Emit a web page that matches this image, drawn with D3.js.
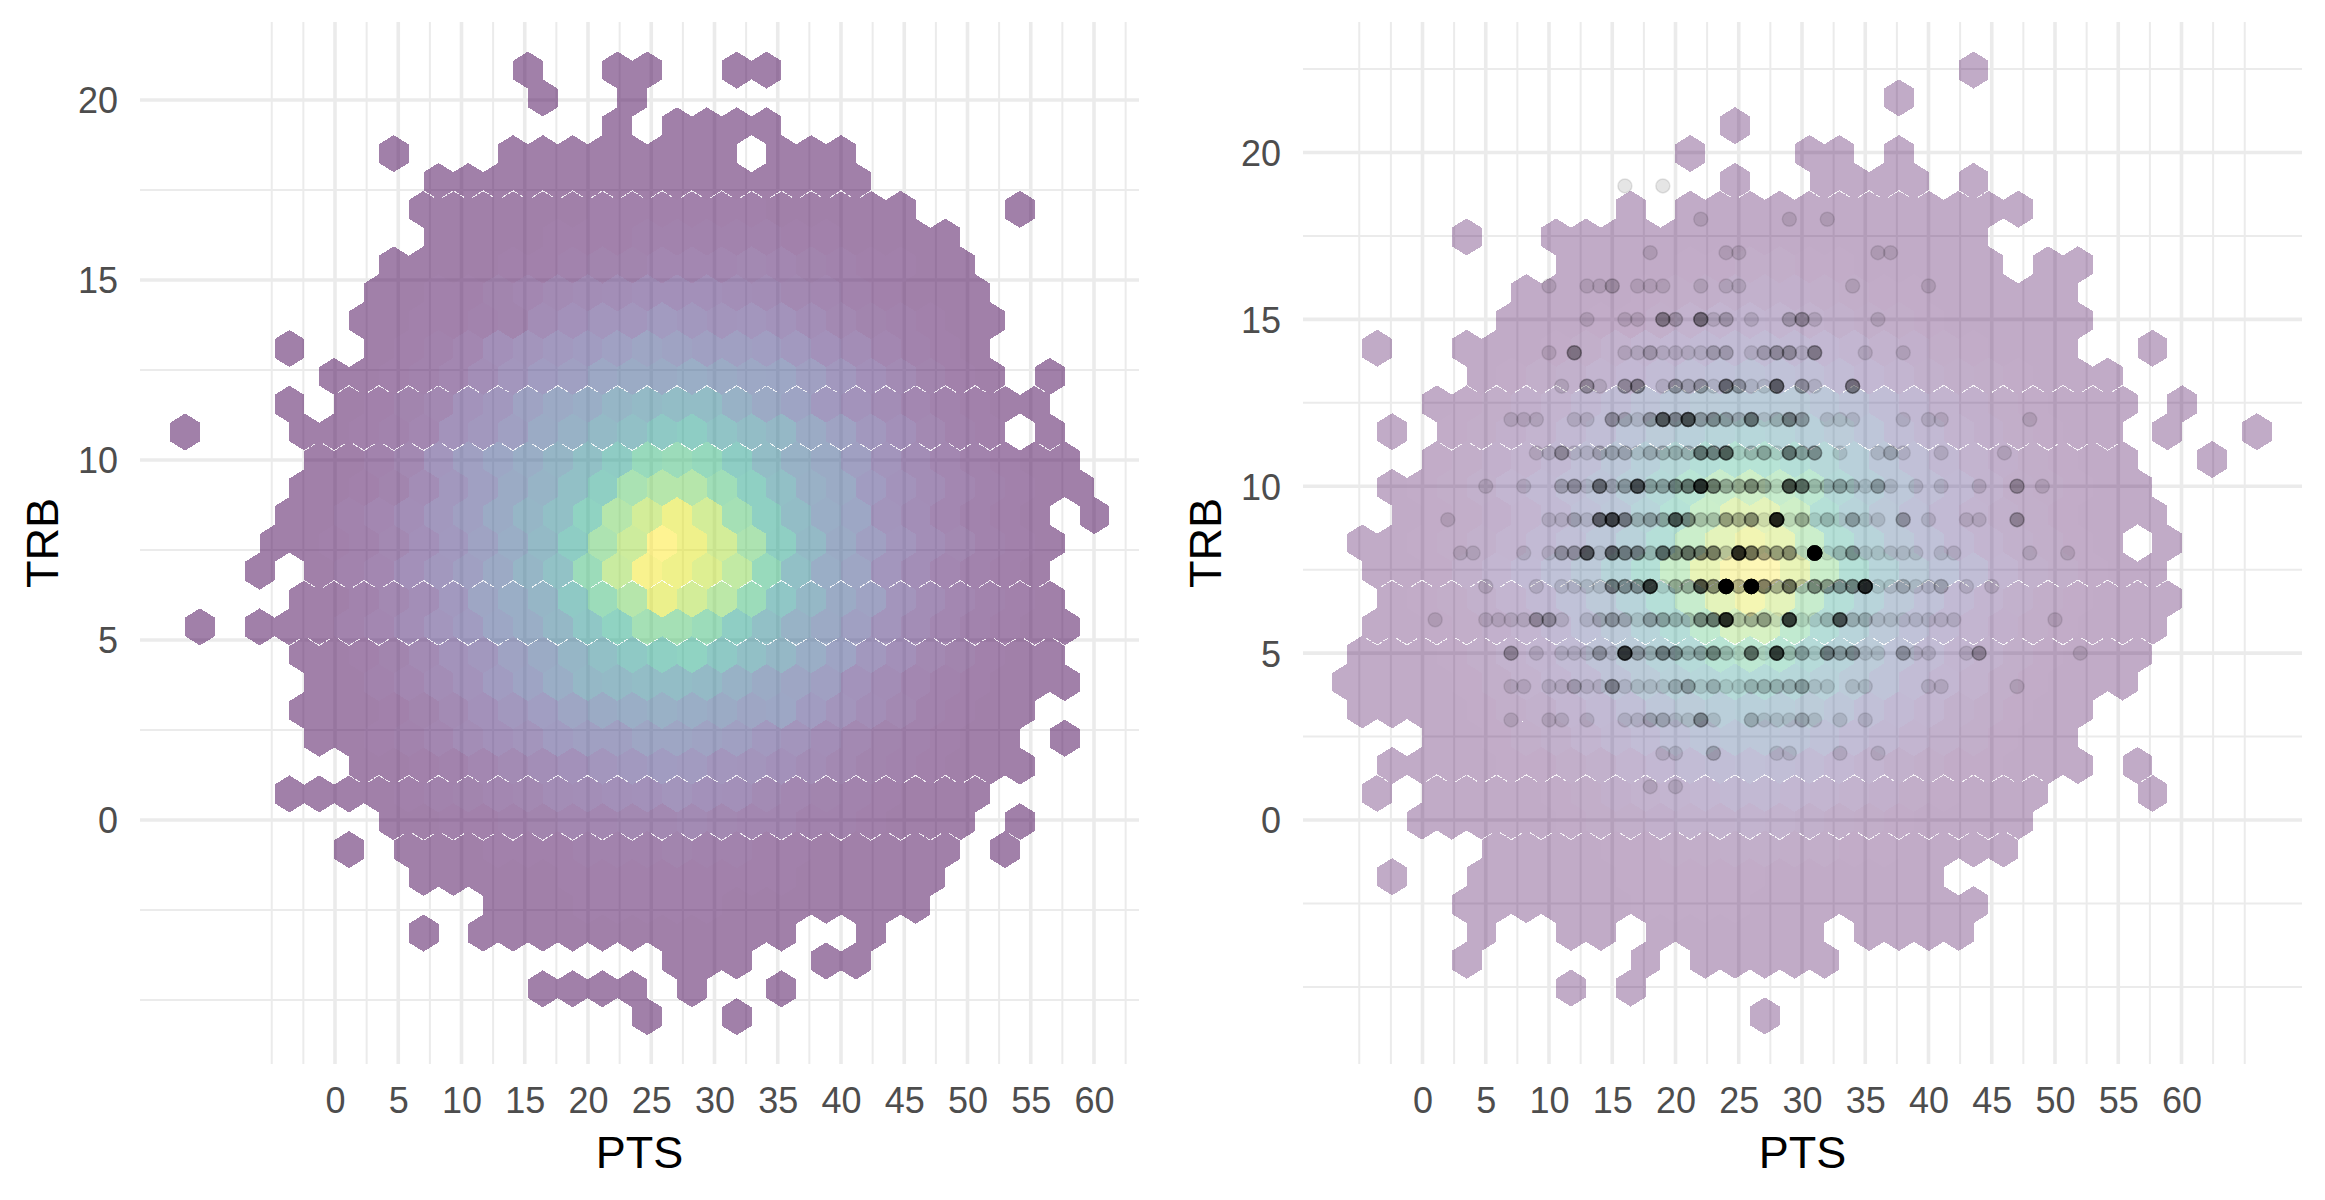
<!DOCTYPE html>
<html>
<head>
<meta charset="utf-8">
<script src="https://cdn.jsdelivr.net/npm/d3@7"></script>
<style>
  body { margin: 0; background: #fff; }
  text { font-family: "Liberation Sans", Arial, sans-serif; }
</style>
</head>
<body>
<div id="chart"></div>
<script>
// tick labels
const ptsTicks = [0, 5, 10, 15, 20, 25, 30, 35, 40, 45, 50, 55, 60]
const trbTicks = [0, 5, 10, 15, 20]

// hex bins of the left panel: column of the first bin in each row, then the counts (0 = empty)
const leftStart = [-4, -4, -1, -9, -7, -8, -7, -9, -9, -10, -12, -11, -12, -16, -11, -12, -12, -13, -13, -12, -15, -12, -11, -12, -11, -10, -12, -9, -10, -8, -5, -8, 1, -4, 0]
const leftCounts = [
  [1, 0, 0, 1, 1, 0, 0, 1, 1],
  [1, 0, 0, 1],
  [1, 0, 1, 1, 1, 1],
  [1, 0, 0, 0, 1, 1, 1, 1, 1, 1, 1, 1, 0, 1, 1, 1],
  [1, 1, 1, 1, 1, 1, 1, 1, 1, 1, 1, 1, 1, 1, 1],
  [1, 1, 1, 1, 1, 1, 2, 2, 2, 2, 2, 2, 1, 1, 1, 1, 1, 0, 0, 0, 1],
  [1, 1, 1, 1, 2, 2, 2, 3, 3, 3, 3, 3, 2, 2, 1, 1, 1, 1],
  [1, 1, 1, 1, 2, 2, 3, 4, 4, 5, 5, 5, 6, 5, 4, 3, 2, 2, 1, 1],
  [1, 1, 2, 2, 4, 5, 7, 8, 9, 10, 10, 10, 9, 8, 6, 5, 3, 2, 1, 1, 1],
  [1, 1, 2, 2, 3, 4, 8, 11, 14, 14, 17, 15, 13, 14, 12, 9, 6, 4, 3, 2, 1, 1],
  [1, 0, 0, 1, 2, 3, 5, 10, 13, 16, 18, 21, 24, 22, 20, 20, 19, 16, 11, 8, 5, 3, 2, 1],
  [1, 1, 2, 3, 5, 9, 14, 18, 20, 26, 28, 28, 30, 28, 26, 25, 20, 15, 10, 7, 4, 2, 1, 0, 1],
  [1, 0, 1, 2, 4, 6, 12, 15, 22, 27, 30, 36, 40, 42, 42, 33, 27, 23, 16, 12, 8, 5, 3, 2, 1, 1],
  [1, 0, 0, 0, 1, 1, 2, 3, 5, 12, 15, 20, 28, 33, 40, 44, 52, 55, 48, 42, 38, 28, 22, 15, 10, 6, 3, 2, 0, 1],
  [1, 1, 3, 6, 14, 20, 25, 30, 36, 45, 54, 66, 68, 65, 55, 42, 33, 28, 20, 13, 8, 5, 3, 2, 1, 1],
  [1, 1, 2, 4, 8, 15, 20, 28, 35, 44, 57, 74, 78, 78, 70, 58, 45, 32, 28, 18, 12, 8, 5, 3, 2, 1, 1],
  [1, 1, 3, 5, 9, 15, 20, 28, 36, 45, 60, 78, 87, 95, 87, 72, 58, 42, 30, 25, 13, 9, 5, 3, 2, 1, 0, 1],
  [1, 1, 2, 3, 6, 10, 16, 22, 30, 40, 55, 75, 85, 100, 95, 87, 75, 57, 40, 28, 20, 14, 9, 6, 3, 2, 1],
  [1, 0, 1, 3, 5, 10, 15, 20, 27, 36, 46, 68, 84, 98, 95, 90, 82, 66, 45, 30, 24, 14, 9, 5, 3, 2, 1],
  [1, 1, 3, 6, 9, 16, 24, 30, 36, 52, 68, 78, 94, 87, 80, 68, 50, 38, 28, 22, 13, 8, 5, 3, 2, 1],
  [1, 0, 1, 1, 1, 3, 5, 9, 14, 18, 25, 30, 38, 50, 60, 72, 72, 68, 56, 45, 34, 27, 20, 13, 8, 5, 3, 2, 1, 1],
  [1, 1, 2, 4, 7, 12, 15, 22, 28, 36, 44, 52, 58, 60, 52, 45, 38, 30, 23, 15, 10, 6, 4, 2, 1, 1],
  [1, 1, 3, 5, 8, 12, 18, 23, 30, 38, 40, 42, 42, 40, 33, 28, 24, 20, 12, 8, 5, 3, 2, 1, 1, 1],
  [1, 1, 1, 2, 4, 7, 11, 15, 19, 24, 28, 30, 32, 30, 28, 24, 25, 18, 13, 9, 6, 3, 2, 1, 1],
  [1, 1, 2, 3, 5, 8, 11, 13, 18, 20, 20, 24, 24, 22, 20, 16, 13, 9, 6, 4, 3, 2, 1, 1, 0, 1],
  [1, 1, 2, 3, 5, 7, 9, 11, 14, 16, 18, 17, 14, 13, 11, 8, 6, 4, 3, 2, 1, 1, 1],
  [1, 1, 1, 1, 2, 3, 4, 5, 6, 8, 9, 10, 11, 13, 11, 10, 7, 5, 4, 3, 2, 1, 1, 1],
  [1, 1, 2, 2, 3, 4, 5, 5, 6, 6, 7, 6, 5, 5, 3, 3, 2, 1, 1, 1, 0, 1],
  [1, 0, 1, 1, 1, 2, 2, 2, 3, 3, 3, 4, 3, 3, 2, 2, 1, 1, 1, 1, 1, 0, 1],
  [1, 1, 1, 1, 1, 2, 2, 2, 2, 2, 2, 2, 2, 1, 1, 1, 1, 1],
  [1, 1, 1, 2, 2, 2, 2, 2, 1, 1, 1, 1, 1, 1, 1],
  [1, 0, 1, 1, 1, 1, 1, 1, 1, 1, 1, 1, 1, 0, 0, 1],
  [1, 1, 1, 0, 0, 1, 1],
  [1, 1, 1, 1, 0, 1, 0, 0, 1],
  [1, 0, 0, 1]
]

// hex bins of the right panel
const rightStart = [0, -2, -8, -9, -8, -11, -17, -13, -15, -15, -20, -16, -18, -19, -18, -19, -19, -20, -20, -19, -20, -20, -21, -20, -18, -19, -20, -18, -16, -19, -17, -16, -17, -13, -7]
const rightCounts = [
  [1],
  [1],
  [1],
  [1, 0, 0, 0, 1, 1, 0, 1],
  [1, 0, 0, 1, 1, 1, 1, 0, 1],
  [1, 0, 1, 1, 1, 1, 1, 1, 1, 1, 1, 1, 1, 1],
  [1, 0, 0, 1, 1, 1, 1, 1, 1, 1, 1, 1, 1, 1, 1, 1, 1, 1],
  [1, 1, 1, 1, 2, 2, 3, 3, 2, 2, 1, 1, 1, 1, 1, 0, 1, 1],
  [1, 1, 1, 1, 2, 3, 4, 6, 6, 5, 4, 3, 2, 2, 1, 1, 1, 1, 1],
  [1, 1, 1, 2, 2, 4, 7, 9, 10, 9, 7, 6, 4, 3, 2, 1, 1, 1, 1, 1],
  [1, 0, 0, 1, 1, 1, 2, 4, 7, 10, 12, 14, 16, 16, 14, 12, 10, 7, 5, 3, 2, 1, 1, 1, 0, 0, 1],
  [1, 2, 4, 6, 9, 12, 16, 20, 22, 24, 22, 20, 16, 12, 9, 6, 4, 3, 2, 1, 1, 1],
  [1, 2, 3, 5, 8, 13, 18, 24, 28, 32, 34, 34, 32, 28, 24, 18, 13, 8, 5, 3, 2, 1, 1, 1, 0, 1],
  [1, 0, 2, 3, 5, 8, 13, 18, 26, 32, 38, 44, 46, 44, 38, 32, 26, 18, 13, 8, 5, 3, 2, 1, 1, 0, 1, 0, 0, 1],
  [2, 3, 5, 8, 13, 20, 28, 38, 48, 56, 62, 62, 56, 48, 38, 28, 20, 13, 8, 5, 3, 2, 1, 1, 0, 0, 1],
  [1, 2, 3, 6, 10, 14, 20, 26, 36, 50, 64, 75, 78, 74, 68, 50, 38, 28, 20, 14, 8, 4, 3, 2, 1, 1],
  [1, 2, 3, 5, 9, 14, 22, 28, 44, 60, 76, 88, 88, 78, 58, 42, 30, 22, 14, 9, 6, 4, 2, 1, 1, 1],
  [1, 1, 2, 3, 6, 9, 14, 20, 28, 40, 56, 76, 88, 94, 90, 76, 58, 42, 30, 22, 14, 9, 6, 4, 2, 1, 0, 1],
  [1, 1, 2, 6, 10, 15, 22, 30, 44, 58, 76, 90, 98, 100, 90, 76, 58, 44, 32, 25, 18, 10, 6, 4, 2, 1, 1],
  [1, 2, 3, 6, 9, 14, 22, 30, 42, 56, 74, 88, 95, 88, 74, 56, 42, 30, 22, 14, 9, 6, 3, 2, 1, 1, 1],
  [1, 1, 2, 3, 5, 9, 14, 22, 30, 42, 54, 70, 82, 82, 70, 54, 42, 30, 22, 14, 9, 5, 3, 2, 1, 1, 1],
  [1, 1, 1, 2, 4, 7, 10, 16, 24, 32, 42, 52, 64, 68, 64, 52, 42, 32, 24, 16, 10, 7, 4, 2, 1, 1, 1],
  [1, 1, 1, 1, 2, 4, 7, 11, 16, 24, 32, 40, 46, 52, 52, 46, 40, 32, 24, 16, 11, 7, 4, 2, 1, 1, 1],
  [1, 1, 1, 1, 2, 4, 6, 10, 14, 20, 27, 32, 36, 38, 36, 32, 27, 20, 14, 10, 6, 4, 2, 1, 1],
  [1, 1, 2, 4, 6, 9, 13, 17, 22, 26, 28, 28, 26, 22, 17, 13, 9, 6, 4, 2, 1, 1],
  [1, 1, 1, 1, 2, 2, 4, 6, 9, 12, 16, 18, 20, 18, 16, 12, 9, 6, 4, 2, 2, 1, 1, 1, 0, 1],
  [1, 0, 1, 1, 1, 1, 2, 3, 5, 7, 9, 11, 13, 13, 11, 9, 7, 5, 3, 2, 1, 1, 1, 0, 0, 0, 1],
  [1, 1, 1, 1, 1, 2, 3, 4, 5, 7, 7, 8, 7, 6, 4, 3, 2, 1, 1, 1, 1],
  [1, 1, 1, 1, 2, 2, 3, 3, 4, 4, 3, 3, 2, 2, 1, 1, 1, 1],
  [1, 0, 0, 1, 1, 1, 1, 1, 2, 2, 2, 2, 2, 1, 1, 1, 1, 1, 1],
  [1, 1, 1, 1, 1, 1, 2, 2, 2, 2, 1, 1, 1, 1, 1, 1, 1, 1],
  [1, 0, 0, 1, 1, 0, 1, 1, 1, 1, 1, 1, 0, 1, 1, 1, 1],
  [1, 0, 0, 0, 0, 0, 1, 0, 1, 1, 1, 1, 1],
  [1, 0, 1],
  [1]
]

// points of the right panel: one row per TRB value, PTS values and how many points sit there
const dotTRB = [19, 18, 17, 16, 15, 14, 13, 12, 11, 10, 9, 8, 7, 6, 5, 4, 3, 2, 1]
const dotPTS = [
  [16, 19],
  [22, 29, 32],
  [18, 24, 25, 36, 37],
  [10, 13, 14, 15, 17, 18, 19, 22, 24, 25, 34, 40],
  [13, 16, 17, 19, 20, 22, 23, 24, 26, 29, 30, 31, 36],
  [10, 12, 16, 17, 18, 19, 20, 21, 22, 23, 24, 26, 27, 28, 29, 30, 31, 35, 38],
  [11, 13, 14, 16, 17, 19, 20, 21, 22, 23, 24, 25, 26, 27, 28, 30, 31, 34],
  [7, 8, 9, 12, 13, 15, 16, 17, 18, 19, 20, 21, 22, 23, 24, 25, 26, 27, 28, 29, 30, 32, 33, 34, 38, 40, 41, 48],
  [9, 10, 11, 12, 13, 14, 15, 16, 17, 18, 19, 20, 21, 22, 23, 24, 25, 26, 27, 28, 29, 30, 31, 33, 36, 37, 38, 41, 46],
  [5, 8, 11, 12, 13, 14, 15, 16, 17, 18, 19, 20, 21, 22, 23, 24, 25, 26, 27, 28, 29, 30, 31, 32, 33, 34, 35, 36, 37, 39, 41, 44, 47, 49],
  [2, 10, 11, 12, 13, 14, 15, 16, 17, 18, 19, 20, 21, 22, 23, 24, 25, 26, 27, 28, 29, 30, 31, 32, 33, 34, 35, 36, 38, 40, 43, 44, 47],
  [3, 4, 8, 10, 11, 12, 13, 14, 15, 16, 17, 18, 19, 20, 21, 22, 23, 24, 25, 26, 27, 28, 29, 30, 31, 32, 33, 34, 35, 36, 37, 38, 39, 41, 42, 48, 51],
  [5, 9, 11, 12, 13, 14, 15, 16, 17, 18, 19, 20, 21, 22, 23, 24, 25, 26, 27, 28, 29, 30, 31, 32, 33, 34, 35, 36, 37, 38, 39, 40, 41, 43, 45],
  [1, 5, 6, 7, 8, 9, 10, 11, 13, 14, 15, 16, 17, 18, 19, 20, 21, 22, 23, 24, 25, 26, 27, 28, 29, 30, 31, 32, 33, 34, 35, 36, 37, 38, 39, 40, 41, 42, 50],
  [7, 9, 11, 12, 13, 14, 15, 16, 17, 18, 19, 20, 21, 22, 23, 24, 25, 26, 27, 28, 29, 30, 31, 32, 33, 34, 35, 36, 38, 39, 40, 43, 44, 52],
  [7, 8, 10, 11, 12, 13, 14, 15, 16, 17, 18, 19, 20, 21, 22, 23, 24, 25, 26, 27, 28, 29, 30, 31, 32, 34, 35, 40, 41, 47],
  [7, 10, 11, 13, 16, 17, 18, 19, 20, 21, 22, 23, 26, 27, 28, 29, 30, 31, 33, 35],
  [19, 20, 23, 28, 29, 33, 36],
  [18, 20]
]
const dotN = [
  [1, 1],
  [1, 1, 1],
  [1, 1, 1, 1, 1],
  [1, 1, 1, 2, 1, 1, 1, 1, 1, 1, 1, 1],
  [1, 1, 1, 4, 2, 5, 1, 2, 1, 2, 3, 1, 1],
  [1, 4, 1, 1, 2, 1, 1, 1, 1, 2, 2, 1, 2, 3, 3, 1, 4, 1, 1],
  [1, 3, 1, 3, 4, 1, 3, 2, 3, 1, 6, 3, 1, 1, 7, 3, 1, 5],
  [1, 1, 1, 1, 1, 3, 2, 1, 3, 8, 4, 9, 3, 4, 3, 2, 6, 1, 2, 5, 3, 1, 1, 1, 1, 1, 1, 1],
  [1, 1, 3, 1, 1, 2, 2, 2, 1, 2, 2, 2, 2, 6, 5, 8, 1, 2, 3, 1, 6, 3, 4, 1, 1, 2, 1, 1, 1],
  [1, 1, 2, 3, 1, 6, 2, 3, 9, 3, 3, 5, 6, 14, 6, 3, 3, 5, 3, 1, 10, 7, 2, 2, 3, 2, 1, 3, 1, 1, 1, 1, 3, 1],
  [1, 1, 1, 2, 1, 7, 10, 5, 2, 3, 3, 9, 5, 2, 2, 4, 3, 5, 1, 17, 1, 3, 1, 2, 1, 3, 1, 1, 3, 1, 1, 1, 3],
  [1, 1, 1, 1, 3, 3, 8, 1, 7, 5, 5, 2, 7, 5, 7, 6, 6, 2, 15, 7, 4, 4, 5, 1, 35, 1, 2, 4, 1, 1, 1, 1, 1, 1, 1, 1, 1],
  [1, 1, 1, 1, 1, 1, 5, 4, 4, 12, 1, 3, 3, 10, 5, 35, 3, 35, 6, 3, 7, 2, 5, 4, 4, 5, 15, 1, 1, 2, 1, 1, 2, 1, 1],
  [1, 1, 1, 1, 1, 3, 3, 1, 1, 2, 3, 2, 1, 3, 3, 2, 2, 5, 6, 15, 2, 3, 4, 1, 12, 1, 1, 2, 9, 2, 2, 1, 1, 1, 1, 1, 1, 1, 1],
  [3, 1, 1, 1, 1, 3, 1, 12, 3, 2, 5, 4, 2, 3, 5, 2, 1, 7, 1, 12, 2, 3, 1, 5, 3, 4, 1, 1, 3, 1, 1, 1, 3, 1],
  [1, 1, 1, 1, 2, 1, 1, 4, 1, 1, 1, 1, 2, 3, 1, 2, 1, 1, 2, 2, 2, 2, 3, 1, 1, 1, 1, 1, 1, 1],
  [1, 1, 1, 1, 1, 1, 2, 2, 1, 1, 4, 1, 2, 1, 1, 1, 2, 1, 1, 1],
  [1, 1, 2, 1, 1, 1, 1],
  [1, 1]
]

// rows where the hexagons leave a hairline: row above the seam, and which way its peaks point
const seams = [[4, 'up'], [11, 'up'], [13, 'down'], [18, 'up'], [20, 'down'], [25, 'up'], [27, 'down']]

const svg = d3.select('#chart')
              .append('svg')
              .attr('width', 2325)
              .attr('height', 1200)
              .style('display', 'block')

const color = d3.scaleSequential(d3.interpolateViridis).domain([1, 100])
const binW = 2.357

function drawPanel(p) {
  const x = d3.scaleLinear().domain([0, 60]).range(p.xRange)
  const y = d3.scaleLinear().domain([0, 20]).range(p.yRange)
  const g = svg.append('g')

  // grid, minor first
  const addGrid = (vals, w, vert) => {
    g.selectAll(null)
      .data(vals)
      .enter()
      .append('line')
      .attr('x1', d => vert ? x(d) : p.left)
      .attr('x2', d => vert ? x(d) : p.right)
      .attr('y1', d => vert ? p.top : y(d))
      .attr('y2', d => vert ? p.bottom : y(d))
      .attr('stroke', '#ebebeb')
      .attr('stroke-width', w)
  }
  addGrid(d3.range(-5, p.xMax + 0.1, 5).map(d => d + 2.5).filter(d => d <= p.xMax).concat([-5, 65].filter(d => d <= p.xMax)), 2, true)
  addGrid(d3.range(-5, p.yMax + 0.1, 5).map(d => d + 2.5).filter(d => d <= p.yMax).concat([-5]), 2, false)
  addGrid(ptsTicks, 3.6, true)
  addGrid(trbTicks, 3.6, false)

  // hex bins
  const hw = (x(binW) - x(0)) / 2
  const rowStep = y(0) - y(p.trbStep)
  const hh = rowStep * 2 / 3
  const bins = []
  p.counts.forEach((row, r) => {
    row.forEach((n, i) => {
      if (!n) return
      const k = p.start[r] + i
      const half = 2 * k + ((r % 2 === 1) === p.oddFirst ? 0 : -1)
      bins.push({
        r, half, n,
        pts: p.pts0 + half * binW / 2,
        trb: p.trb0 - r * p.trbStep
      })
    })
  })
  const hexPath = d => {
    const cx = x(d.pts), cy = y(d.trb)
    return `M${cx},${cy - hh}L${cx + hw},${cy - hh / 2}L${cx + hw},${cy + hh / 2}L${cx},${cy + hh}L${cx - hw},${cy + hh / 2}L${cx - hw},${cy - hh / 2}Z`
  }
  g.selectAll(null)
    .data(bins)
    .enter()
    .append('path')
    .attr('d', hexPath)
    .attr('fill', d => color(d.n))
    .attr('fill-opacity', p.alpha)
    .attr('shape-rendering', 'crispEdges')

  // white hairlines between some rows
  const have = new Set(bins.map(d => d.r + ':' + d.half))
  const seamData = []
  seams.forEach(([r, dir]) => {
    bins.filter(d => d.r === (dir === 'up' ? r + 1 : r)).forEach(d => {
      const other = dir === 'up' ? r : r + 1
      const sy = dir === 'up' ? -1 : 1
      const cx = x(d.pts), cy = y(d.trb)
      if (have.has(other + ':' + (d.half - 1))) {
        seamData.push(`M${cx - hw * 0.75},${cy + sy * hh * 0.625}L${cx},${cy + sy * hh}`)
      }
      if (have.has(other + ':' + (d.half + 1))) {
        seamData.push(`M${cx},${cy + sy * hh}L${cx + hw * 0.7},${cy + sy * hh * 0.65}`)
      }
    })
  })
  g.selectAll(null)
    .data(seamData)
    .enter()
    .append('path')
    .attr('d', d => d)
    .attr('fill', 'none')
    .attr('stroke', '#fff')
    .attr('stroke-opacity', 0.85)
    .attr('stroke-width', 1)
    .attr('stroke-dasharray', '6 1.5')
    .attr('shape-rendering', 'crispEdges')

  // points
  if (p.dots) {
    const dots = []
    dotTRB.forEach((trb, i) => {
      dotPTS[i].forEach((pts, j) => {
        d3.range(dotN[i][j]).forEach(() => dots.push({ pts, trb }))
      })
    })
    g.selectAll('circle')
      .data(dots)
      .enter()
      .append('circle')
      .attr('cx', d => x(d.pts))
      .attr('cy', d => y(d.trb))
      .attr('r', 7)
      .attr('fill', '#000')
      .attr('fill-opacity', 0.1)
      .attr('stroke', '#000')
      .attr('stroke-opacity', 0.1)
      .attr('stroke-width', 1.5)
  }

  // axes
  const xAxis = g.append('g')
    .attr('transform', `translate(0,${p.bottom})`)
    .call(d3.axisBottom(x).tickValues(ptsTicks).tickSize(0).tickPadding(23))
  const yAxis = g.append('g')
    .attr('transform', `translate(${p.left},0)`)
    .call(d3.axisLeft(y).tickValues(trbTicks).tickSize(0).tickPadding(22))
  ;[xAxis, yAxis].forEach(a => {
    a.select('.domain').remove()
    a.selectAll('text')
      .attr('fill', '#4d4d4d')
      .style('font-family', '"Liberation Sans", Arial, sans-serif')
      .style('font-size', '36px')
  })
  yAxis.selectAll('text').attr('dy', '0.36em')

  g.append('text')
    .attr('x', (p.left + p.right) / 2)
    .attr('y', 1168)
    .attr('text-anchor', 'middle')
    .attr('font-size', 45)
    .text('PTS')
  g.append('text')
    .attr('transform', `translate(${p.titleX},${(p.top + p.bottom) / 2}) rotate(-90)`)
    .attr('text-anchor', 'middle')
    .attr('font-size', 45)
    .text('TRB')
}

drawPanel({
  counts: leftCounts, start: leftStart, oddFirst: true,
  pts0: 25.86, trb0: 20.83, trbStep: 0.7733, alpha: 0.5,
  xRange: [335, 1094], yRange: [820, 100],
  left: 140, right: 1139, top: 22, bottom: 1064,
  xMax: 62.5, yMax: 17.5, titleX: 58, dots: false
})

drawPanel({
  counts: rightCounts, start: rightStart, oddFirst: false,
  pts0: 43.56, trb0: 22.47, trbStep: 0.8335, alpha: 0.33,
  xRange: [1422.5, 2181.5], yRange: [820, 152.5],
  left: 1303, right: 2302, top: 22, bottom: 1064,
  xMax: 65, yMax: 22.5, titleX: 1221, dots: true
})
</script>
</body>
</html>
